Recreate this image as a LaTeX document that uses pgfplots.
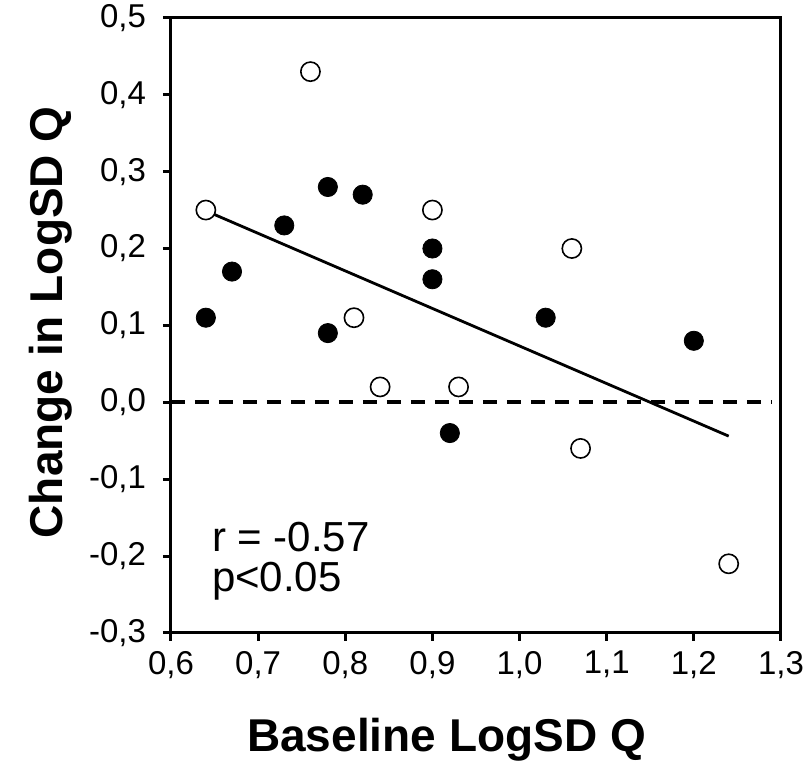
\documentclass[border=0pt]{standalone}
\usepackage{fontspec}
\setmainfont{Liberation Sans}
\usepackage{pgfplots}
\pgfplotsset{compat=1.18}

% open and filled symbols
\pgfplotstableread{
x y
0.64 0.25
0.76 0.43
0.90 0.25
0.81 0.11
0.84 0.02
0.93 0.02
1.06 0.20
1.07 -0.06
1.24 -0.21
}\opendata
\pgfplotstableread{
x y
0.64 0.11
0.67 0.17
0.73 0.23
0.78 0.28
0.78 0.09
0.82 0.27
0.90 0.20
0.90 0.16
0.92 -0.04
1.03 0.11
1.20 0.08
}\filleddata

\begin{document}
\begin{tikzpicture}
\begin{axis}[
  scale only axis, width=305pt, height=307.6pt,
  xmin=0.6, xmax=1.3, ymin=-0.3, ymax=0.5,
  xtick={0.6,0.7,...,1.3}, ytick={-0.3,-0.2,...,0.5},
  tick pos=left, tick align=outside, major tick length=4pt,
  axis line style={line width=1.5pt}, every tick/.style={black, line width=1.5pt},
  /pgf/number format/.cd, fixed, fixed zerofill, precision=1, use comma, assume math mode=true,
  /pgfplots/.cd,
  tick label style={font=\fontsize{16.5}{19}\selectfont},
  xticklabel style={yshift=-1.5pt},
  yticklabel style={xshift=-5pt},
  xlabel={Baseline LogSD Q}, ylabel={Change in LogSD Q},
  label style={font=\fontsize{23}{27}\selectfont\bfseries},
  xlabel style={at={(axis description cs:0.4516,-0.1739)}, anchor=center},
  ylabel style={at={(axis description cs:-0.197,0.505)}, anchor=center},
  clip=false,
]
\addplot[only marks, mark=*, mark size=4.8pt, mark options={draw=black, fill=black}] table {\filleddata};
\addplot[only marks, mark=*, mark size=4.8pt, mark options={draw=black, fill=white, line width=0.8pt}] table {\opendata};
\addplot[black, line width=1.8pt, dash pattern=on 7pt off 5pt] coordinates {(0.6,0) (1.29,0)};
\addplot[black, line width=1.4pt] coordinates {(0.64,0.249) (1.24,-0.044)};
\node[anchor=base west, inner sep=0, font=\fontsize{21}{25}\selectfont] at (axis cs:0.6467,-0.194) {r = -0.57};
\node[anchor=base west, inner sep=0, font=\fontsize{21}{25}\selectfont] at (axis cs:0.6467,-0.246) {p<0.05};
\end{axis}
\pgfresetboundingbox
\path (-85.5pt,-71pt) rectangle (319.5pt,316.5pt);
\end{tikzpicture}
\end{document}
